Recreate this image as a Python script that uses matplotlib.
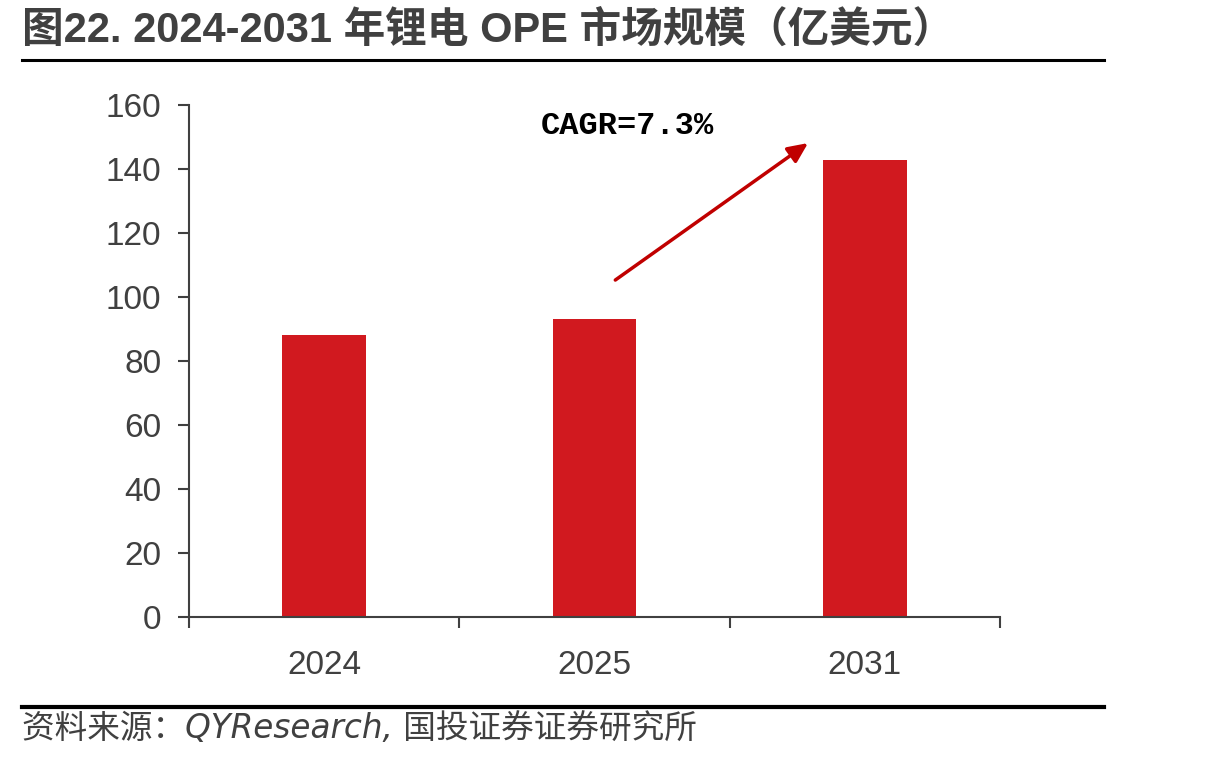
import matplotlib.pyplot as plt
from matplotlib.ticker import FixedLocator

years = ['2024', '2025', '2031']
market_size = [88.0, 93.0, 142.8]
y_ticks = [0, 20, 40, 60, 80, 100, 120, 140, 160]

title = '图22. 2024-2031 年锂电 OPE 市场规模（亿美元）'
source = '资料来源：QYResearch, 国投证券证券研究所'
cagr_label = 'CAGR=7.3%'

bar_red = '#D1191F'
arrow_red = '#C00000'
grey = '#404040'

plt.rcParams['font.family'] = ['Liberation Sans', 'Noto Sans CJK SC', 'DejaVu Sans']

fig = plt.figure(figsize=(12.14, 7.59), dpi=100)
ax = fig.add_axes([0.1557, 0.187, 0.668, 0.6747])

pos = list(range(len(years)))
ax.bar(pos, market_size, width=0.31, color=bar_red)

ax.set_xlim(-0.5, 2.5)
ax.set_ylim(0, 160)
ax.set_yticks(y_ticks)
ax.set_xticks(pos)
ax.set_xticklabels(years)
ax.xaxis.set_minor_locator(FixedLocator([-0.5, 0.5, 1.5, 2.5]))

ax.tick_params(axis='x', which='major', length=0, pad=24, labelsize=24, labelcolor=grey)
ax.tick_params(axis='x', which='minor', length=8, width=1.5, color=grey, direction='out')
ax.tick_params(axis='y', length=8, width=1.5, color=grey, pad=12, labelsize=24, labelcolor=grey)

for s in ['top', 'right']:
    ax.spines[s].set_visible(False)
for s in ['left', 'bottom']:
    ax.spines[s].set_color(grey)
    ax.spines[s].set_linewidth(1.5)

# CAGR arrow and label
ax.annotate('', xy=(1.79, 148.1), xytext=(1.077, 105.3),
            arrowprops=dict(arrowstyle='-|>,head_length=1.2,head_width=0.55',
                            color=arrow_red, lw=2.5, shrinkA=0, shrinkB=0))
ax.text(0.80, 153.5, cagr_label, fontsize=23, fontweight='bold',
        family=['Liberation Mono', 'DejaVu Sans Mono'], va='center', ha='left', color='black')

# title, rules and source
fig.text(0.018, 0.960, title, fontsize=30, fontweight='bold', color=grey,
         va='center', ha='left', family=['Liberation Sans', 'Noto Sans CJK SC'])
fig.add_artist(plt.Line2D([0.018, 0.909], [0.921, 0.921], color='black', lw=2.2))
fig.add_artist(plt.Line2D([0.018, 0.909], [0.0685, 0.0685], color='black', lw=3))
fig.text(0.018, 0.040, source, fontsize=23.5, color=grey, style='italic',
         va='center', ha='left', family=['DejaVu Sans', 'Noto Sans CJK SC'])

fig.savefig('out.png', dpi=100)
